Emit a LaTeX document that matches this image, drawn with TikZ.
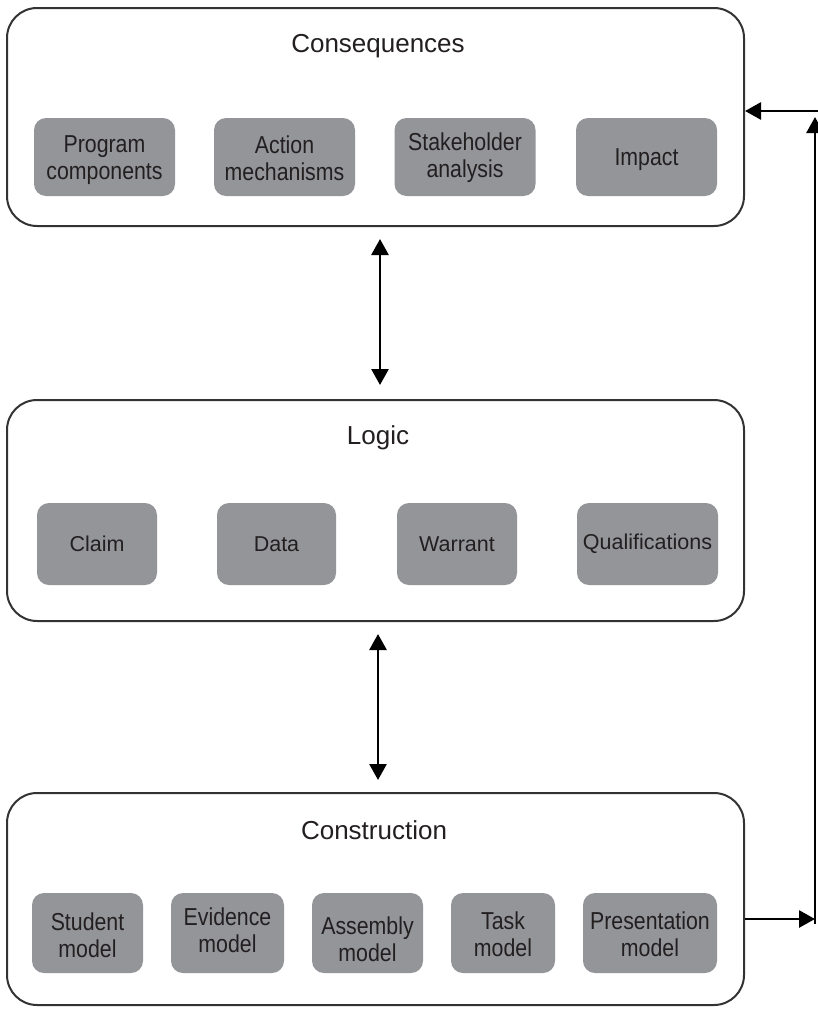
\documentclass[tikz,border=0pt]{standalone}
\usepackage{fontspec}
\setmainfont{Liberation Sans}
\newfontfamily\narrowfont[FakeStretch=0.87]{Liberation Sans}
\usetikzlibrary{arrows.meta}
\definecolor{subgray}{HTML}{939598}
\definecolor{txt}{HTML}{231F20}
\definecolor{frame}{HTML}{333333}
\tikzset{
  outerbox/.style={draw=frame, line width=2pt, rounded corners=30pt, fill=white, inner sep=0pt},
  subbox/.style={fill=subgray, rounded corners=12pt, inner sep=0pt, align=center, text=txt,
     font=\narrowfont\fontsize{24.5}{27}\selectfont},
  logicbox/.style={subbox, font=\fontsize{21.5}{24}\selectfont},
  subtext/.style={text=txt, inner sep=0pt, align=center, font=\narrowfont\fontsize{24.5}{27}\selectfont},
  titletext/.style={text=txt, font=\fontsize{26}{30}\selectfont, inner sep=0pt},
  tip/.style={},
  conn/.style={line width=2.7pt, draw=black, -{Triangle[length=16pt,width=17pt]}},
  dconn/.style={line width=2.7pt, draw=black, {Triangle[length=16pt,width=17pt]}-{Triangle[length=16pt,width=17pt]}},
}
\begin{document}
\begin{tikzpicture}[x=1pt,y=-1pt]
\useasboundingbox (0,0) rectangle (818,1012);

% outer boxes
\node[outerbox, minimum width=737pt, minimum height=218pt] (cons) at (375.5,117) {};
\node[outerbox, minimum width=737pt, minimum height=221pt] (logic) at (375.5,510.5) {};
\node[outerbox, minimum width=737pt, minimum height=212pt] (constr) at (375.5,899) {};

% titles
\node[titletext] (consT) at (378,46) {Consequences};
\node[titletext] (logicT) at (378,438) {Logic};
\node[titletext] (constrT) at (374,830) {Construction};

% consequences sub-boxes
\node[subbox, minimum width=141pt, minimum height=78pt] (pc) at (104.5,157) {};
\node[subtext] (pcT) at (104.5,160) {Program\\components};
\node[subbox, minimum width=141pt, minimum height=78pt] (am) at (284.5,157) {};
\node[subtext] (amT) at (284.5,158) {Action\\mechanisms};
\node[subbox, minimum width=141pt, minimum height=78pt] (sa) at (465,157) {};
\node[subtext] (saT) at (465,158) {Stakeholder\\analysis};
\node[subbox, minimum width=141pt, minimum height=78pt] (im) at (646.5,157) {};
\node[subtext] (imT) at (646.5,160) {Impact};

% logic sub-boxes
\node[logicbox, minimum width=120pt, minimum height=82pt] (cl) at (97,544) {Claim};
\node[logicbox, minimum width=119pt, minimum height=82pt] (da) at (276.5,544) {Data};
\node[logicbox, minimum width=120pt, minimum height=82pt] (wa) at (457,544) {Warrant};
\node[logicbox, minimum width=141pt, minimum height=82pt] (qu) at (647.5,544) {Qualifications};

% construction sub-boxes
\node[subbox, minimum width=111pt, minimum height=80pt] (sm) at (87.5,933) {};
\node[subtext] (smT) at (87.5,935) {Student\\model};
\node[subbox, minimum width=113pt, minimum height=80pt] (em) at (227.5,933) {};
\node[subtext] (emT) at (227.5,930) {Evidence\\model};
\node[subbox, minimum width=111pt, minimum height=80pt] (asm) at (367.5,933) {};
\node[subtext] (asmT) at (367.5,939) {Assembly\\model};
\node[subbox, minimum width=104pt, minimum height=80pt] (tm) at (503,933) {};
\node[subtext] (tmT) at (503,934) {Task\\model};
\node[subbox, minimum width=134pt, minimum height=80pt] (pm) at (650,933) {};
\node[subtext] (pmT) at (650,934) {Presentation\\model};

% vertical double arrows
\draw[dconn, shorten <=12pt, shorten >=14pt] (cons.south -| 380,0) -- (logic.north -| 380,0);
\draw[dconn, shorten <=12pt, shorten >=12pt] (logic.south -| 378,0) -- (constr.north -| 378,0);

% feedback loop
\coordinate (fbR) at (815,919);
\coordinate (fbLow) at (815,924);
\coordinate (fbUp) at (815,117);
\coordinate (fbEdge) at (818,111);
\draw[conn] (constr.east |- fbR) -- (fbR);
\draw[conn, line cap=butt] (fbLow) -- (fbUp);
\draw[conn] (fbEdge) -- (cons.east |- fbEdge);
\end{tikzpicture}
\end{document}
